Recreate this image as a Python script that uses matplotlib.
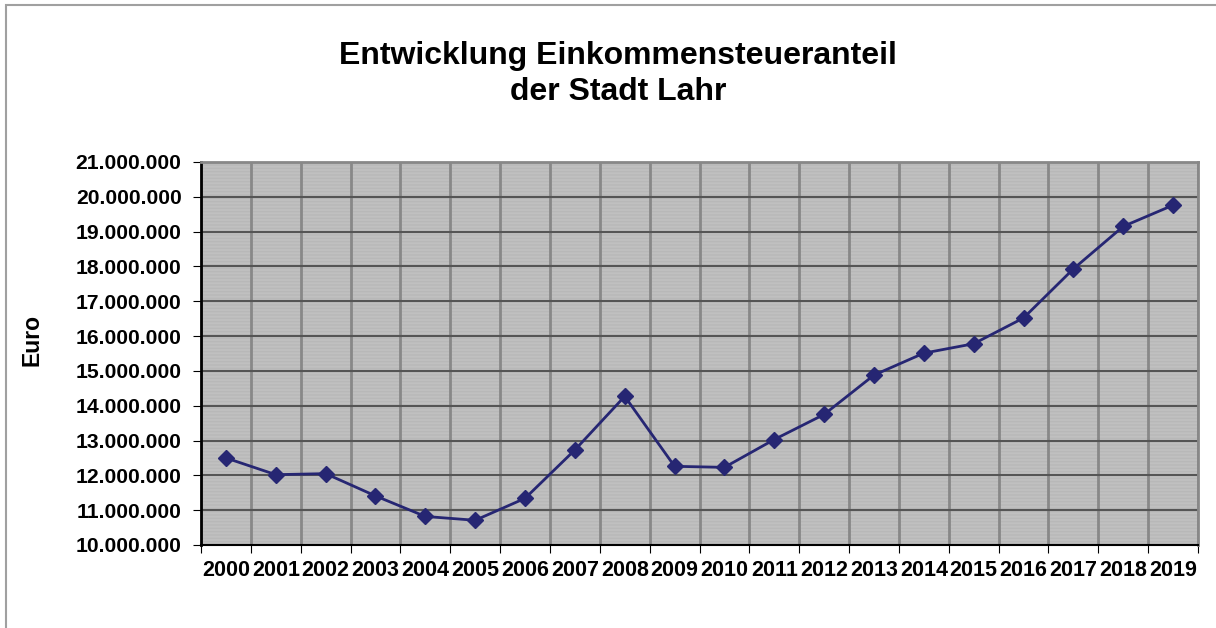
import matplotlib
matplotlib.use("Agg")
import matplotlib.pyplot as plt
from matplotlib.patches import Rectangle
from matplotlib.ticker import FuncFormatter, MultipleLocator

jahre = ["2000", "2001", "2002", "2003", "2004", "2005", "2006", "2007", "2008", "2009",
         "2010", "2011", "2012", "2013", "2014", "2015", "2016", "2017", "2018", "2019"]
einkommensteuer = [12500000, 12020000, 12050000, 11410000, 10820000, 10710000, 11340000,
                   12730000, 14270000, 12260000, 12230000, 13030000, 13750000, 14880000,
                   15510000, 15780000, 16520000, 17930000, 19150000, 19760000]

plt.rcParams['font.family'] = ['Liberation Sans', 'DejaVu Sans']
plt.rcParams['hatch.color'] = '#b8b8b8'
plt.rcParams['hatch.linewidth'] = 1.0

fig = plt.figure(figsize=(12.16, 6.28), dpi=100)
fig.patches.append(Rectangle((6 / 1216, -0.1), 1.2, 1.1 - 5 / 628, transform=fig.transFigure,
                             fill=False, edgecolor='#a0a0a0', linewidth=1.5))

ax = fig.add_axes([201 / 1216, 1 - 545 / 628, 997 / 1216, 383 / 628])
ax.set_facecolor('#c0c0c0')
ax.patch.set_hatch('-----')
ax.patch.set_edgecolor('#b8b8b8')

x = list(range(len(jahre)))
ax.plot(x, einkommensteuer, color='#262673', linewidth=2, marker='D', markersize=8.5,
        markerfacecolor='#262673', markeredgecolor='#262673', zorder=5)

ax.set_xlim(-0.5, len(jahre) - 0.5)
ax.set_ylim(10000000, 21000000)
ax.yaxis.set_major_locator(MultipleLocator(1000000))
ax.yaxis.set_major_formatter(FuncFormatter(lambda v, p: f"{int(v):,}".replace(",", ".")))

# Kategorieachse: Gitter an den Grenzen, Beschriftung in der Mitte
ax.set_xticks([i - 0.5 for i in range(len(jahre) + 1)])
ax.set_xticklabels([])
ax.set_xticks(x, minor=True)
ax.set_xticklabels(jahre, minor=True)
ax.tick_params(axis='x', which='minor', length=0, pad=11, labelsize=15.5)
ax.tick_params(axis='x', which='major', length=6, color='black', direction='out')
ax.tick_params(axis='y', length=6, color='black', direction='out', labelsize=15.2, pad=8)
for lab in ax.get_xticklabels(minor=True) + ax.get_yticklabels():
    lab.set_fontweight('bold')

ax.grid(True, axis='x', which='major', color='#888888', linewidth=2)
ax.grid(True, axis='y', color='#555555', linewidth=1.5)
ax.set_axisbelow(True)

ax.spines['left'].set_color('black')
ax.spines['left'].set_linewidth(2)
ax.spines['bottom'].set_color('black')
ax.spines['bottom'].set_linewidth(1.5)
ax.spines['top'].set_color('#888888')
ax.spines['top'].set_linewidth(2)
ax.spines['right'].set_color('#888888')
ax.spines['right'].set_linewidth(2)

fig.text(0.508, 1 - 74 / 628, "Entwicklung Einkommensteueranteil\nder Stadt Lahr",
         ha='center', va='center', fontsize=23, fontweight='bold', linespacing=1.3)
fig.text(32 / 1216, 1 - 340 / 628, "Euro", rotation=90, ha='center', va='center',
         fontsize=16.5, fontweight='bold')

fig.savefig("out.png", dpi=100)
